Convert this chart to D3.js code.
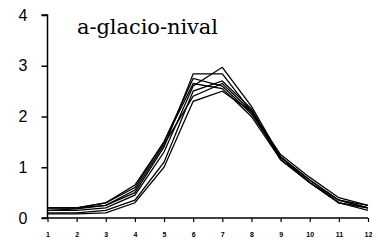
<!DOCTYPE html>
<html>
<head>
<meta charset="utf-8">
<script src="https://cdn.jsdelivr.net/npm/d3@7"></script>
<style>
  body { margin: 0; background: #fff; }
  svg { display: block; }
</style>
</head>
<body>
<div id="chart"></div>
<script>
const width = 378;
const height = 240;

const months = [1, 2, 3, 4, 5, 6, 7, 8, 9, 10, 11, 12];
const yTicks = [0, 1, 2, 3, 4];
const title = "a-glacio-nival";

// one array per station / year
const s1 = [0.20, 0.20, 0.25, 0.50, 1.40, 2.84, 2.84, 2.10, 1.20, 0.75, 0.35, 0.20];
const s2 = [0.15, 0.15, 0.20, 0.45, 1.30, 2.60, 2.97, 2.20, 1.20, 0.70, 0.30, 0.20];
const s3 = [0.10, 0.10, 0.15, 0.35, 1.10, 2.50, 2.70, 2.15, 1.15, 0.70, 0.30, 0.15];
const s4 = [0.20, 0.20, 0.30, 0.65, 1.50, 2.75, 2.60, 2.05, 1.20, 0.75, 0.35, 0.25];
const s5 = [0.08, 0.08, 0.10, 0.30, 1.00, 2.30, 2.50, 2.10, 1.15, 0.70, 0.35, 0.20];
const s6 = [0.15, 0.18, 0.25, 0.55, 1.45, 2.40, 2.65, 2.10, 1.25, 0.80, 0.40, 0.25];
const s7 = [0.20, 0.20, 0.30, 0.60, 1.50, 2.65, 2.55, 2.00, 1.15, 0.70, 0.30, 0.20];
const series = [s1, s2, s3, s4, s5, s6, s7];

const svg = d3.select("#chart")
    .append("svg")
    .attr("width", width)
    .attr("height", height);

const x = d3.scaleLinear().domain([1, 12]).range([47.5, 368]);
const y = d3.scaleLinear().domain([0, 4]).range([218, 15]);

// y axis
svg.append("g")
   .attr("transform", `translate(${x(1)},0)`)
   .call(d3.axisLeft(y).tickValues(yTicks).tickSize(6).tickPadding(14).tickFormat(d3.format("d")))
   .attr("font-family", "Liberation Sans, Arial, sans-serif")
   .call(g => g.select(".domain").attr("stroke-width", 1.5).attr("d", `M-6,${y(4)}H0V${y(0)}`))
   .call(g => g.selectAll(".tick line").attr("stroke-width", 1.5))
   .call(g => g.selectAll("text")
       .attr("font-size", 16)
       .attr("fill", "#000"));

// x axis
svg.append("g")
   .attr("transform", `translate(0,${y(0)})`)
   .call(d3.axisBottom(x).tickValues(months).tickSize(4).tickPadding(10))
   .attr("font-family", "Liberation Sans, Arial, sans-serif")
   .call(g => g.select(".domain").attr("stroke-width", 1.5).attr("d", `M${x(1) - 6},0H${x(12)}`))
   .call(g => g.selectAll(".tick line").attr("stroke-width", 1.2))
   .call(g => g.selectAll("text")
       .attr("font-size", 7)
       .attr("font-weight", "bold")
       .attr("fill", "#000"));

const line = d3.line()
    .x((d, i) => x(months[i]))
    .y(d => y(d));

svg.append("g")
   .selectAll("path")
   .data(series)
   .enter()
   .append("path")
   .attr("d", line)
   .attr("fill", "none")
   .attr("stroke", "#000")
   .attr("stroke-width", 1.3);

svg.append("text")
   .attr("x", 77)
   .attr("y", 34)
   .attr("font-family", "DejaVu Serif, serif")
   .attr("font-size", 21)
   .attr("textLength", 141)
   .attr("fill", "#000")
   .text(title);
</script>
</body>
</html>
